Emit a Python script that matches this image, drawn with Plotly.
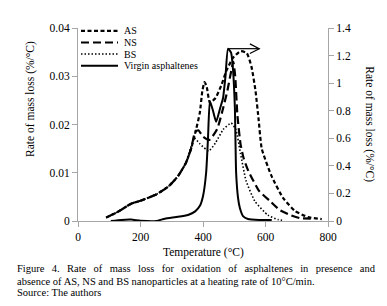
import plotly.graph_objects as go

# ---------------- data ----------------
AS_T = [90, 130, 170, 200, 250, 290, 320, 345, 362, 378, 390, 398, 405, 412, 422, 440, 458, 474, 496, 520, 540, 555, 568, 578, 588, 618, 656, 694, 736, 780]
AS_V = [0.0007, 0.002, 0.0036, 0.0042, 0.0055, 0.0072, 0.0093, 0.012, 0.015, 0.019, 0.0225, 0.027, 0.0288, 0.0278, 0.0245, 0.0255, 0.028, 0.031, 0.0338, 0.0352, 0.0348, 0.032, 0.027, 0.021, 0.015, 0.0095, 0.0048, 0.0021, 0.0008, 0.0004]

NS_T = [90, 130, 170, 200, 250, 290, 320, 345, 362, 375, 385, 400, 420, 445, 462, 478, 490, 497, 503, 510, 520, 530, 545, 580, 615, 645, 680, 710, 745]
NS_V = [0.0007, 0.002, 0.0036, 0.0042, 0.0055, 0.0072, 0.0093, 0.012, 0.015, 0.0185, 0.0188, 0.0175, 0.0168, 0.019, 0.0228, 0.027, 0.031, 0.033, 0.030, 0.022, 0.016, 0.013, 0.0104, 0.0062, 0.0041, 0.0023, 0.0012, 0.0006, 0.0005]

BS_T = [90, 130, 170, 200, 250, 290, 320, 345, 360, 372, 390, 418, 440, 465, 490, 505, 520, 538, 566, 608, 640, 660]
BS_V = [0.0007, 0.002, 0.0036, 0.0042, 0.0055, 0.0072, 0.0093, 0.012, 0.015, 0.0172, 0.016, 0.0145, 0.0162, 0.019, 0.0203, 0.019, 0.014, 0.0083, 0.0041, 0.0012, 0.0003, 0.0001]

VIRGIN_T = [105, 140, 170, 200, 250, 278, 320, 352, 375, 390, 400, 410, 416, 422, 432, 442, 455, 464, 472, 480, 490, 496, 502, 506, 512, 518, 528, 544, 580, 620]
VIRGIN_V = [0.0, 0.008, 0.01, 0.002, 0.0, 0.017, 0.03, 0.044, 0.07, 0.11, 0.18, 0.35, 0.6, 0.87, 0.8, 0.72, 0.82, 0.89, 1.05, 1.25, 1.22, 1.1, 0.82, 0.35, 0.17, 0.094, 0.036, 0.015, 0.008, 0.007]

X_TICKS = [0, 200, 400, 600, 800]
Y1_TICKS = [0, 0.01, 0.02, 0.03, 0.04]
Y1_LABELS = ["0", "0.01", "0.02", "0.03", "0.04"]
Y2_TICKS = [0, 0.2, 0.4, 0.6, 0.8, 1, 1.2, 1.4]
Y2_LABELS = ["0", "0.2", "0.4", "0.6", "0.8", "1", "1.2", "1.4"]

SERIES = [
    ("AS", AS_T, AS_V, "4px,2.5px", 2.2, "y"),
    ("NS", NS_T, NS_V, "8px,4px", 2.2, "y"),
    ("BS", BS_T, BS_V, "1.5px,2px", 1.6, "y"),
    ("Virgin asphaltenes", VIRGIN_T, VIRGIN_V, "solid", 2.0, "y2"),
]

FONT = "Liberation Serif, Times New Roman, serif"
AXIS_GRAY = "#a6a6a6"

fig = go.Figure()
for name, t, v, dash, w, ax in SERIES:
    fig.add_trace(go.Scatter(
        x=t, y=v, name=name, mode="lines", yaxis=ax,
        line=dict(color="black", width=w, dash=dash, shape="spline", smoothing=0.5),
        showlegend=False,
    ))

fig.update_layout(
    width=387, height=306,
    margin=dict(l=70, r=67, t=20, b=93),
    paper_bgcolor="white", plot_bgcolor="white",
    font=dict(family=FONT, size=11, color="black"),
    xaxis=dict(range=[0, 800], tickvals=X_TICKS, showgrid=False, zeroline=False,
               showline=True, linecolor=AXIS_GRAY, linewidth=1,
               ticks="outside", ticklen=5, tickcolor=AXIS_GRAY,
               tickfont=dict(family=FONT, size=11.5)),
    yaxis=dict(range=[0, 0.04], tickvals=Y1_TICKS, ticktext=Y1_LABELS, showgrid=False,
               zeroline=False, showline=True, linecolor=AXIS_GRAY, linewidth=1,
               ticks="outside", ticklen=5, tickcolor=AXIS_GRAY,
               tickfont=dict(family=FONT, size=11.5)),
    yaxis2=dict(range=[0, 1.4], tickvals=Y2_TICKS, ticktext=Y2_LABELS, overlaying="y",
                side="right", showgrid=False, zeroline=False, showline=True,
                linecolor=AXIS_GRAY, linewidth=1, ticks="outside", ticklen=5,
                tickcolor=AXIS_GRAY, tickfont=dict(family=FONT, size=11.5)),
)

annotations = []
shapes = []

# axis titles
annotations.append(dict(text="Rate of mass loss (%/°C)", xref="paper", yref="paper",
                        x=-0.19, y=0.63, textangle=-90, showarrow=False,
                        font=dict(family=FONT, size=11.5), xanchor="center", yanchor="middle"))
annotations.append(dict(text="Rate of mass loss (%/°C)", xref="paper", yref="paper",
                        x=1.165, y=0.5, textangle=90, showarrow=False,
                        font=dict(family=FONT, size=11.5), xanchor="center", yanchor="middle"))
annotations.append(dict(text="Temperature (°C)", xref="paper", yref="paper",
                        x=0.5, y=-0.165, showarrow=False, xanchor="center", yanchor="middle",
                        font=dict(family=FONT, size=11.5)))

# caption (first line justified by widening the word spaces)
CAPTION = [
    "Figure 4. Rate of mass loss for oxidation of asphaltenes in presence and",
    "absence of AS, NS and BS nanoparticles at a heating rate of 10°C/min.",
    "Source: The authors",
]
CAPTION_Y = [-0.2487, -0.3109, -0.373]
for i, line in enumerate(CAPTION):
    txt = line.replace(" ", " \u00a0\u2009") if i == 0 else line
    annotations.append(dict(text=txt, xref="paper", yref="paper",
                            x=-0.25, y=CAPTION_Y[i], xanchor="left", yanchor="middle",
                            showarrow=False, borderpad=0, font=dict(family=FONT, size=10.5)))

# manual legend (top-left of plot area)
for i, (name, t, v, dash, w, ax) in enumerate(SERIES):
    yy = 0.985 - i * 0.06
    shapes.append(dict(type="line", xref="paper", yref="paper", x0=0.012, x1=0.16,
                       y0=yy, y1=yy, line=dict(color="black", width=w, dash=dash)))
    annotations.append(dict(text=name, xref="paper", yref="paper", x=0.175, y=yy,
                            xanchor="left", yanchor="middle", showarrow=False,
                            font=dict(family=FONT, size=10)))

# arrow from the virgin-asphaltenes peak pointing to the right axis
i_pk = max(range(len(VIRGIN_V)), key=lambda k: VIRGIN_V[k])
t_pk, v_pk = VIRGIN_T[i_pk], VIRGIN_V[i_pk]
t_end = t_pk + 100
shapes.append(dict(type="line", xref="x", yref="y2", x0=t_pk, x1=t_end, y0=v_pk, y1=v_pk,
                   line=dict(color="black", width=1.2)))
shapes.append(dict(type="path", xref="x", yref="y2",
                   path=f"M {t_end-30},{v_pk+0.035} L {t_end},{v_pk} L {t_end-30},{v_pk-0.035}",
                   line=dict(color="black", width=1.2)))

fig.update_layout(annotations=annotations, shapes=shapes)
fig.write_html("out.html")
